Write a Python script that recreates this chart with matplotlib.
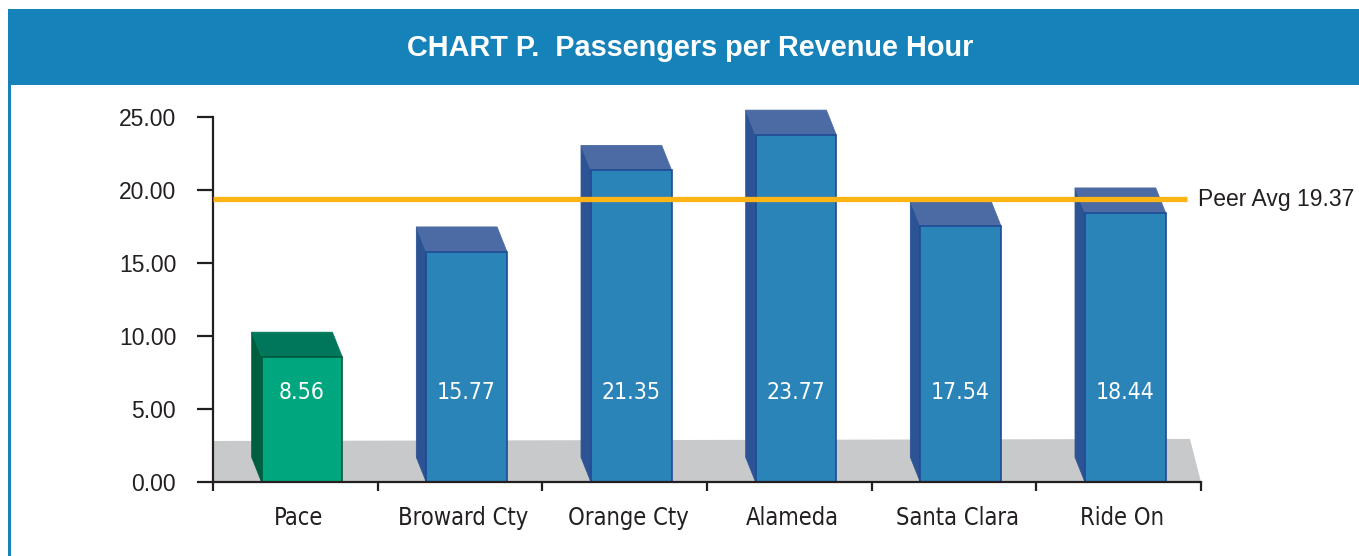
import matplotlib
matplotlib.use('Agg')
import matplotlib.pyplot as plt
from matplotlib.patches import Polygon, Rectangle
from matplotlib import font_manager as fm

categories = ['Pace', 'Broward Cty', 'Orange Cty', 'Alameda', 'Santa Clara', 'Ride On']
values = [8.56, 15.77, 21.35, 23.77, 17.54, 18.44]
value_labels = ['8.56', '15.77', '21.35', '23.77', '17.54', '18.44']
peer_avg = 19.37
peer_label = 'Peer Avg 19.37'
yticks = [0, 5, 10, 15, 20, 25]
ytick_labels = ['0.00', '5.00', '10.00', '15.00', '20.00', '25.00']
title = 'CHART P.  Passengers per Revenue Hour'
highlight = 'Pace'

W, H = 1359, 556
fig = plt.figure(figsize=(W / 100, H / 100), dpi=100)
fig.patch.set_facecolor('white')

BANNER = '#1582BA'
TEXT = '#231F20'
SANS = ['Liberation Sans', 'DejaVu Sans']

# find a condensed face if one is installed
cond_path = None
for f in fm.fontManager.ttflist:
    if 'liberationsansnarrow-regular' in f.fname.lower():
        cond_path = f.fname
        break
if cond_path is None:
    for f in fm.fontManager.ttflist:
        if 'dejavusanscondensed.ttf' in f.fname.lower():
            cond_path = f.fname
            break
if cond_path is not None:
    NARROW_FP = fm.FontProperties(fname=cond_path)
else:
    NARROW_FP = fm.FontProperties(family='DejaVu Sans', stretch='condensed')


def nfp(size):
    p = NARROW_FP.copy()
    p.set_size(size)
    return p


def fx(px):
    return px / W


def fy(py):
    return 1 - py / H


# banner and frame
fig.patches.append(Rectangle((fx(8), fy(85)), fx(1359) - fx(8), fy(9) - fy(85),
                             transform=fig.transFigure, facecolor=BANNER,
                             edgecolor='none', zorder=0))
fig.patches.append(Rectangle((fx(8), 0), fx(3), fy(85), transform=fig.transFigure,
                             facecolor=BANNER, edgecolor='none', zorder=0))
fig.text(fx(690), fy(48), title, color='white', fontsize=20.8, fontweight='bold',
         ha='center', va='center', family=SANS)

ax = fig.add_axes([fx(213), fy(482), fx(1201) - fx(213), fy(117) - fy(482)])
ax.set_xlim(-0.5, len(categories) - 0.5)
ax.set_ylim(0, 25)
ax.set_facecolor('none')

# floor
n = len(categories)
floor = Polygon([(-0.5, 0), (n - 0.5, 0), (n - 0.5 - 0.067, 2.95), (-0.5, 2.81)],
                closed=True, facecolor='#C8C9CB', edgecolor='none', zorder=1)
ax.add_patch(floor)

BAR_W = 0.49
SHIFT = 0.04
DX = -0.06
DY = 1.7

for i, (cat, v, lbl) in enumerate(zip(categories, values, value_labels)):
    if cat == highlight:
        front_c, side_c, top_c, edge_c = '#00A77E', '#005E40', '#00775A', '#005A3C'
    else:
        front_c, side_c, top_c, edge_c = '#2A84B8', '#2C5494', '#4C6AA3', '#1E4A94'
    x0 = i + SHIFT - BAR_W / 2
    x1 = x0 + BAR_W
    side = Polygon([(x0, 0), (x0, v), (x0 + DX, v + DY), (x0 + DX, DY)], closed=True,
                   facecolor=side_c, edgecolor=side_c, lw=0.6, zorder=2, clip_on=False)
    top = Polygon([(x0, v), (x1, v), (x1 + DX, v + DY), (x0 + DX, v + DY)], closed=True,
                  facecolor=top_c, edgecolor=top_c, lw=0.6, zorder=2, clip_on=False)
    front = Rectangle((x0, 0), BAR_W, v, facecolor=front_c, edgecolor=edge_c, lw=1.2,
                      zorder=3, clip_on=False)
    ax.add_patch(side)
    ax.add_patch(top)
    ax.add_patch(front)
    ax.text(i + SHIFT, 6.16, lbl, color='white', ha='center', va='center',
            fontproperties=nfp(16.5), zorder=6)

ax.plot([-0.5, 5.414], [peer_avg, peer_avg], color='#FDB515', lw=3.8, zorder=5,
        solid_capstyle='butt', clip_on=False)
ax.text(5.48, peer_avg, peer_label, color=TEXT, fontsize=16.5, ha='left', va='center',
        family=SANS, clip_on=False)

for s in ['top', 'right']:
    ax.spines[s].set_visible(False)
for s in ['left', 'bottom']:
    ax.spines[s].set_color(TEXT)
    ax.spines[s].set_linewidth(1.6)
    ax.spines[s].set_zorder(4)

ax.set_yticks(yticks)
ax.set_yticklabels(ytick_labels, fontsize=16.5, color=TEXT, family=SANS)
ax.tick_params(axis='y', direction='out', length=11.5, width=1.6, color=TEXT, pad=15)

ax.set_xticks([i - 0.5 for i in range(n + 1)])
ax.set_xticklabels([])
ax.tick_params(axis='x', which='major', direction='out', length=6.5, width=1.6, color=TEXT)
ax.set_xticks([i + 0.02 for i in range(n)], minor=True)
ax.set_xticklabels(categories, minor=True, color=TEXT, fontproperties=nfp(17))
ax.tick_params(axis='x', which='minor', length=0, pad=17)

fig.savefig('out.png', dpi=100, facecolor='white')
